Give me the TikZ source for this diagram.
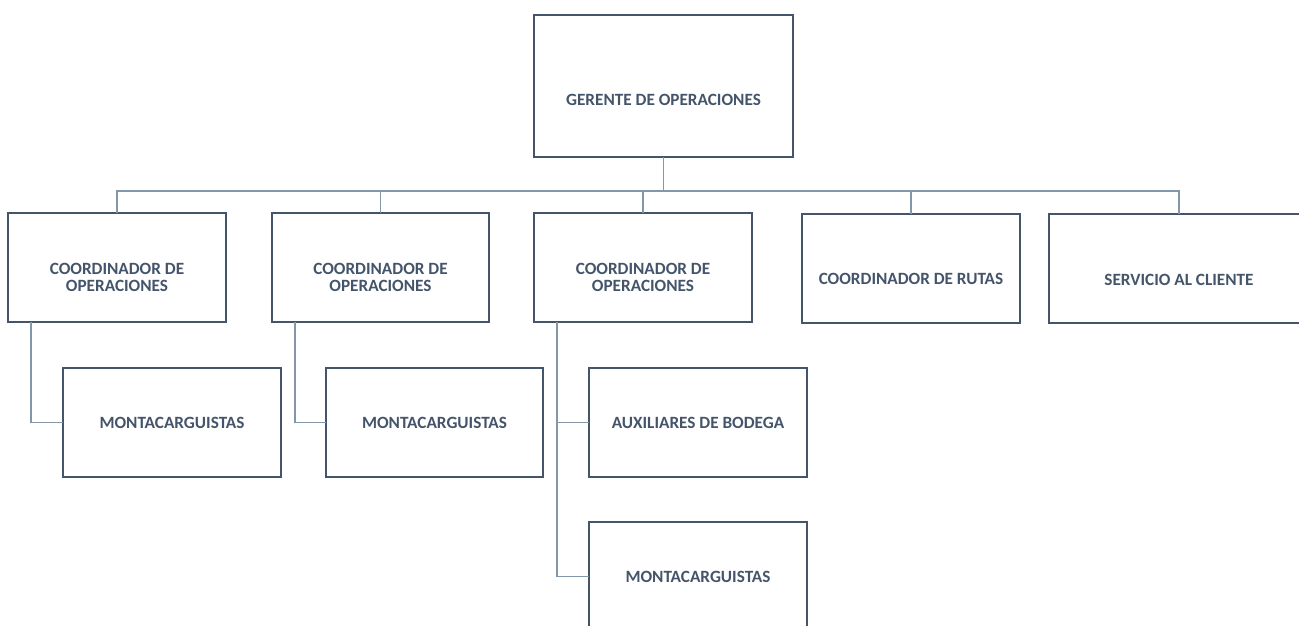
\documentclass[tikz,border=0pt]{standalone}
\usepackage{fontspec}
\setmainfont{Carlito}
\definecolor{boxline}{HTML}{44546A}
\definecolor{boxtext}{HTML}{44546A}
\definecolor{linkline}{HTML}{8497A8}
\begin{document}
\begin{tikzpicture}[x=1pt,y=-1pt,
  orgbox/.style={draw=boxline, line width=2pt, rectangle, outer sep=0pt,
    minimum width=218pt, minimum height=109pt},
  orgtext/.style={align=center, text=boxtext, inner sep=0pt,
    font=\fontsize{17.2}{17.5}\selectfont\bfseries},
  caption/.style 2 args={label={[orgtext, yshift=#1]center:{#2}}},
  link/.style={draw=linkline, line width=1.2pt}]
\useasboundingbox (0,0) rectangle (1299,625);
\begin{scope}
\clip (0,0) rectangle (1299,625);
% top level
\node[orgbox, minimum width=259pt, minimum height=142pt, caption={-14pt}{GERENTE DE OPERACIONES}] (top) at (663.5,86) {};
% second level
\node[orgbox, caption={-10pt}{COORDINADOR DE\\OPERACIONES}] (c1) at (117,267.5) {};
\node[orgbox, minimum width=217pt, caption={-10pt}{COORDINADOR DE\\OPERACIONES}] (c2) at (380.5,267.5) {};
\node[orgbox, caption={-10pt}{COORDINADOR DE\\OPERACIONES}] (c3) at (643,267.5) {};
\node[orgbox, caption={-10pt}{COORDINADOR DE RUTAS}] (c4) at (911,268.5) {};
\node[orgbox, minimum width=260pt, caption={-12pt}{SERVICIO AL CLIENTE}] (c5) at (1179,268) {};
% third level
\node[orgbox, caption={0pt}{MONTACARGUISTAS}] (m1) at (172,422.5) {};
\node[orgbox, minimum width=217pt, caption={0pt}{MONTACARGUISTAS}] (m2) at (434.5,422.5) {};
\node[orgbox, caption={0pt}{AUXILIARES DE BODEGA}] (a3) at (698,422.5) {};
\node[orgbox, caption={0pt}{MONTACARGUISTAS}] (m3) at (698,576.5) {};
% connectors
\coordinate (bus) at (664,191);
\foreach \c in {c1,c2,c3,c4,c5}
  \draw[link] (top.south) -- (top.south |- bus) -| (\c.north);
\draw[link] ([xshift=23pt]c1.south west) |- (m1.west);
\draw[link] ([xshift=23pt]c2.south west) |- (m2.west);
\draw[link] ([xshift=23pt]c3.south west) |- (a3.west);
\draw[link] ([xshift=23pt]c3.south west) |- (m3.west);
\end{scope}
\end{tikzpicture}
\end{document}
